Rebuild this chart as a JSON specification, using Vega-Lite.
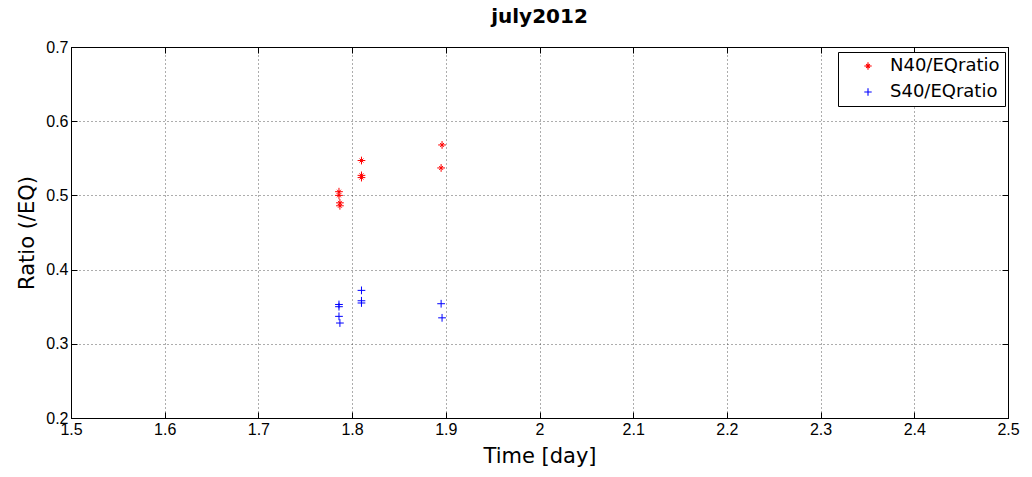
{
  "$schema": "https://vega.github.io/schema/vega-lite/v6.json",
  "width": 937,
  "height": 371,
  "autosize": {"type": "none"},
  "padding": {"left": 71, "top": 47, "right": 24, "bottom": 59},
  "background": "white",
  "title": {"text": "july2012", "font": "DejaVu Sans", "fontSize": 20, "fontWeight": "bold", "color": "black", "offset": 12},
  "config": {
    "view": {"stroke": "black", "strokeWidth": 1},
    "axis": {"labelFont": "Liberation Sans", "titleFont": "DejaVu Sans", "labelColor": "black", "titleColor": "black", "labelFontSize": 16, "titleFontSize": 21, "titleFontWeight": "normal", "domainColor": "black", "tickColor": "black", "tickSize": -6, "gridColor": "#333", "gridDash": [1, 3], "gridOpacity": 0.8, "labelPadding": 9}
  },
  "data": {"values": [
    {"t": 1.786, "r": 0.505, "s": "N40/EQratio"},
    {"t": 1.786, "r": 0.500, "s": "N40/EQratio"},
    {"t": 1.787, "r": 0.490, "s": "N40/EQratio"},
    {"t": 1.787, "r": 0.486, "s": "N40/EQratio"},
    {"t": 1.810, "r": 0.547, "s": "N40/EQratio"},
    {"t": 1.810, "r": 0.527, "s": "N40/EQratio"},
    {"t": 1.810, "r": 0.524, "s": "N40/EQratio"},
    {"t": 1.896, "r": 0.568, "s": "N40/EQratio"},
    {"t": 1.895, "r": 0.537, "s": "N40/EQratio"},
    {"t": 1.810, "r": 0.372, "s": "S40/EQratio"},
    {"t": 1.810, "r": 0.358, "s": "S40/EQratio"},
    {"t": 1.810, "r": 0.355, "s": "S40/EQratio"},
    {"t": 1.786, "r": 0.353, "s": "S40/EQratio"},
    {"t": 1.786, "r": 0.350, "s": "S40/EQratio"},
    {"t": 1.786, "r": 0.337, "s": "S40/EQratio"},
    {"t": 1.787, "r": 0.328, "s": "S40/EQratio"},
    {"t": 1.895, "r": 0.354, "s": "S40/EQratio"},
    {"t": 1.896, "r": 0.335, "s": "S40/EQratio"}
  ]},
  "resolve": {"axis": {"x": "independent", "y": "independent"}},
  "layer": [
    {
      "mark": {"type": "point", "filled": false, "strokeWidth": 1, "size": 60, "opacity": 1},
      "encoding": {
        "x": {"field": "t", "type": "quantitative", "title": "Time [day]", "scale": {"domain": [1.5, 2.5], "nice": false, "zero": false}, "axis": {"values": [1.5, 1.6, 1.7, 1.8, 1.9, 2.0, 2.1, 2.2, 2.3, 2.4, 2.5], "labelExpr": "datum.value == 2 ? '2' : format(datum.value, '.1f')", "titlePadding": 8, "labelFlush": false}},
        "y": {"field": "r", "type": "quantitative", "title": "Ratio (/EQ)", "scale": {"domain": [0.2, 0.7], "nice": false, "zero": false}, "axis": {"values": [0.2, 0.3, 0.4, 0.5, 0.6, 0.7], "format": ".1f", "titlePadding": 8, "labelFlush": false}},
        "color": {"field": "s", "type": "nominal", "scale": {"domain": ["N40/EQratio", "S40/EQratio"], "range": ["#ff0000", "#0000ff"]},
          "legend": {"title": null, "orient": "none", "legendX": 767, "legendY": 5, "strokeColor": "black", "fillColor": "white", "padding": 5, "labelFont": "DejaVu Sans", "labelFontSize": 18, "labelColor": "black", "symbolSize": 55, "symbolStrokeWidth": 1.1, "rowPadding": 8, "labelOffset": 13, "symbolOffset": 16, "cornerRadius": 0}},
        "shape": {"field": "s", "type": "nominal", "scale": {"domain": ["N40/EQratio", "S40/EQratio"], "range": ["M-1,0L1,0M0,-1L0,1M-0.5,-0.5L0.5,0.5M-0.5,0.5L0.5,-0.5", "M-1,0L1,0M0,-1L0,1"]}, "legend": null}
      }
    },
    {
      "mark": {"type": "point", "opacity": 0},
      "encoding": {
        "x": {"field": "t", "type": "quantitative", "axis": {"orient": "top", "values": [1.5, 1.6, 1.7, 1.8, 1.9, 2.0, 2.1, 2.2, 2.3, 2.4, 2.5], "labels": false, "grid": false, "title": null}},
        "y": {"field": "r", "type": "quantitative", "axis": {"orient": "right", "values": [0.2, 0.3, 0.4, 0.5, 0.6, 0.7], "labels": false, "grid": false, "title": null}}
      }
    }
  ]
}
